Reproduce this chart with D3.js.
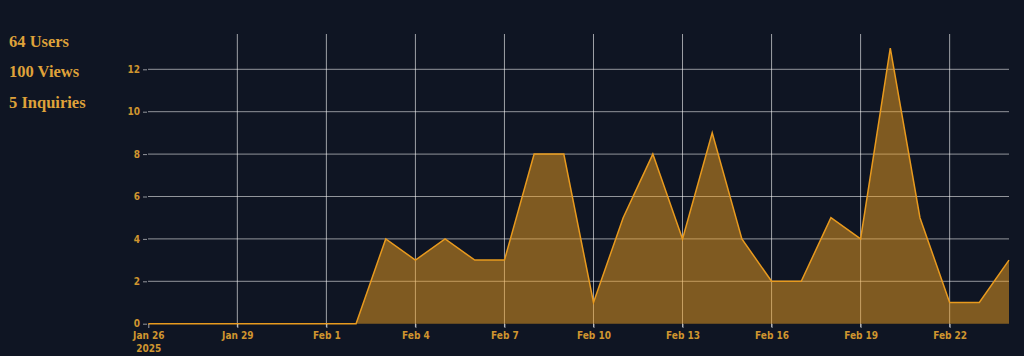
<!DOCTYPE html>
<html><head><meta charset="utf-8">
<script src="https://cdn.jsdelivr.net/npm/d3@7"></script>
<style>
html,body{margin:0;padding:0;background:#0f1523;}
svg{display:block;}
.stat{font-family:"Liberation Serif",serif;font-weight:bold;fill:#dfa23a;font-size:16.5px;}
.tick text{font-family:"DejaVu Sans Condensed","DejaVu Sans",sans-serif;font-weight:bold;font-size:10px;fill:#cf952f;}
</style></head>
<body>
<svg id="c" width="1024" height="356"></svg>
<script>
const stats = ["64 Users", "100 Views", "5 Inquiries"];
const dates = ["2025-01-26","2025-01-27","2025-01-28","2025-01-29","2025-01-30","2025-01-31","2025-02-01","2025-02-02","2025-02-03","2025-02-04","2025-02-05","2025-02-06","2025-02-07","2025-02-08","2025-02-09","2025-02-10","2025-02-11","2025-02-12","2025-02-13","2025-02-14","2025-02-15","2025-02-16","2025-02-17","2025-02-18","2025-02-19","2025-02-20","2025-02-21","2025-02-22","2025-02-23","2025-02-24"];
const values = [0,0,0,0,0,0,0,0,4,3,4,3,3,8,8,1,5,8,4,9,4,2,2,5,4,13,5,1,1,3];
const yTicks = [0,2,4,6,8,10,12];
const xTickDates = ["2025-01-26","2025-01-29","2025-02-01","2025-02-04","2025-02-07","2025-02-10","2025-02-13","2025-02-16","2025-02-19","2025-02-22"];

const parse = d3.utcParse("%Y-%m-%d");
const data = dates.map((d,i)=>({date:parse(d), v:values[i]}));
const svg = d3.select("#c");
const x = d3.scaleUtc().domain([data[0].date, data[data.length-1].date]).range([148.3, 1009]);
const y = d3.scaleLinear().domain([0,12]).range([323.7, 69.3]);

svg.selectAll("text.stat").data(stats).join("text").attr("class","stat")
  .attr("x",9).attr("y",(d,i)=>46.5+i*30.5).text(d=>d);

// grid
const g = svg.append("g");
g.selectAll("line.hg").data(yTicks.filter(t=>t>0)).join("line")
  .attr("x1",148).attr("x2",1009).attr("y1",d=>y(d)).attr("y2",d=>y(d))
  .attr("stroke","rgba(255,255,255,0.55)").attr("stroke-width",1);
g.selectAll("line.vg").data(xTickDates.slice(1).map(parse)).join("line")
  .attr("y1",34).attr("y2",327).attr("x1",d=>x(d)).attr("x2",d=>x(d))
  .attr("stroke","rgba(255,255,255,0.6)").attr("stroke-width",1);

// area
const area = d3.area().x(d=>x(d.date)).y0(y(0)).y1(d=>y(d.v));
const line = d3.line().x(d=>x(d.date)).y(d=>y(d.v));
svg.append("path").datum(data).attr("d",area).attr("fill","rgba(240,160,32,0.5)");
svg.append("path").datum(data).attr("d",line).attr("fill","none").attr("stroke","#e89a1e").attr("stroke-width",1.5);

// axes
const yAxis = d3.axisLeft(y).tickValues(yTicks).tickSize(4).tickPadding(3);
const ya = svg.append("g").attr("transform","translate(147,0)").call(yAxis);
ya.select(".domain").remove();
ya.selectAll(".tick line").attr("stroke","rgba(255,255,255,0.55)");

const fmt = d3.utcFormat("%b %-d");
const xAxis = d3.axisBottom(x).tickValues(xTickDates.map(parse)).tickSize(4).tickPadding(4).tickFormat(fmt);
const xa = svg.append("g").attr("transform","translate(0,324)").call(xAxis);
xa.select(".domain").remove();
xa.selectAll(".tick line").attr("stroke","rgba(255,255,255,0.6)");
xa.selectAll(".tick").filter((d,i)=>i===0).select("text")
  .append("tspan").attr("x",0).attr("dy","1.3em").text("2025");
</script>
</body></html>
